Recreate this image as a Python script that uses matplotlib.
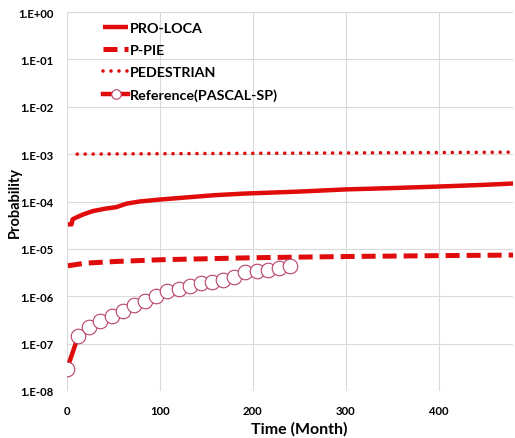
import matplotlib
matplotlib.use("Agg")
import matplotlib.pyplot as plt
from matplotlib.ticker import FixedLocator, FixedFormatter

plt.rcParams['font.family'] = ['Lato', 'DejaVu Sans']
plt.rcParams['font.weight'] = 'bold'

# PRO-LOCA leak probability
pro_loca_t = [1, 5, 6, 10, 17, 28, 42, 53, 64, 78, 100, 124, 159, 191,
              250, 300, 350, 400, 450, 480]
pro_loca_p = [3.3e-5, 3.3e-5, 4.2e-5, 4.6e-5, 5.3e-5, 6.3e-5, 7.1e-5, 7.6e-5,
              9.0e-5, 1.0e-4, 1.1e-4, 1.2e-4, 1.36e-4, 1.47e-4,
              1.62e-4, 1.8e-4, 1.92e-4, 2.07e-4, 2.25e-4, 2.4e-4]

# P-PIE leak probability
p_pie_t = [1, 20, 51, 101, 200, 300, 400, 480]
p_pie_p = [4.4e-6, 5.0e-6, 5.4e-6, 5.9e-6, 6.5e-6, 6.9e-6, 7.2e-6, 7.4e-6]

# PEDESTRIAN leak probability
ped_t = [11, 100, 200, 300, 400, 480]
ped_p = [1.0e-3, 1.02e-3, 1.04e-3, 1.06e-3, 1.08e-3, 1.1e-3]

# Reference solution (PASCAL-SP)
ref_t = [0, 12, 24, 36, 48, 60, 72, 84, 96, 108, 120, 132, 144, 156, 168,
         180, 192, 204, 216, 228, 240]
ref_p = [2.9e-8, 1.43e-7, 2.2e-7, 3.06e-7, 3.9e-7, 4.9e-7, 6.4e-7, 8.0e-7,
         1.0e-6, 1.26e-6, 1.4e-6, 1.65e-6, 1.9e-6, 2.0e-6, 2.2e-6,
         2.5e-6, 3.2e-6, 3.4e-6, 3.6e-6, 3.86e-6, 4.3e-6]

y_ticks = [1e0, 1e-1, 1e-2, 1e-3, 1e-4, 1e-5, 1e-6, 1e-7, 1e-8]
y_labels = ['1.E+00', '1.E-01', '1.E-02', '1.E-03', '1.E-04', '1.E-05',
            '1.E-06', '1.E-07', '1.E-08']
x_ticks = [0, 100, 200, 300, 400]

red = '#E00B0B'
edge = '#B8416E'

fig = plt.figure(figsize=(5.15, 4.39), dpi=100)
ax = fig.add_axes([67 / 515, 47 / 439, 446 / 515, 379 / 439])

ax.plot(pro_loca_t, pro_loca_p, color=red, lw=3.2, label='PRO-LOCA',
        solid_capstyle='butt')
ax.plot(p_pie_t, p_pie_p, color=red, lw=3.6, dashes=(2.8, 1.4),
        label='P-PIE')
ax.plot(ped_t, ped_p, color=red, lw=2.6, dashes=(0.01, 2.2),
        dash_capstyle='round', label='PEDESTRIAN')
ax.plot(ref_t, ref_p, color=red, lw=3.2, marker='o', ms=10.5,
        mfc='white', mec=edge, mew=0.8, label='Reference(PASCAL-SP)')

ax.set_yscale('log')
ax.set_ylim(1e-8, 1e0)
ax.set_xlim(0, 480)
ax.yaxis.set_major_locator(FixedLocator(y_ticks))
ax.yaxis.set_major_formatter(FixedFormatter(y_labels))
ax.yaxis.set_minor_locator(FixedLocator([]))
ax.set_xticks(x_ticks)
ax.tick_params(length=0, labelsize=8.2)
ax.tick_params(axis='y', pad=10)
ax.tick_params(axis='x', pad=10)
for lab in ax.get_xticklabels() + ax.get_yticklabels():
    lab.set_fontweight('bold')

ax.grid(True, color='#DADADA', lw=0.8)
ax.set_axisbelow(True)
for s in ax.spines.values():
    s.set_visible(False)

ax.set_xlabel('Time (Month)', fontsize=11.5, fontweight='bold')
ax.set_ylabel('Probability', fontsize=10.5, fontweight='bold')
ax.xaxis.set_label_coords(0.52, -0.098, transform=ax.transAxes)
ax.yaxis.set_label_coords(-0.117, 0.5, transform=ax.transAxes)
ax.xaxis.label.set_va('center')
ax.yaxis.label.set_va('center')

leg = ax.legend(loc='upper left', bbox_to_anchor=(0.062, 0.997), frameon=False,
                fontsize=10.3, handlelength=1.75, handletextpad=0.12,
                labelspacing=0.72, borderaxespad=0.2, markerscale=0.65)
for t in leg.get_texts():
    t.set_fontweight('bold')

fig.savefig('out.png', dpi=100)
